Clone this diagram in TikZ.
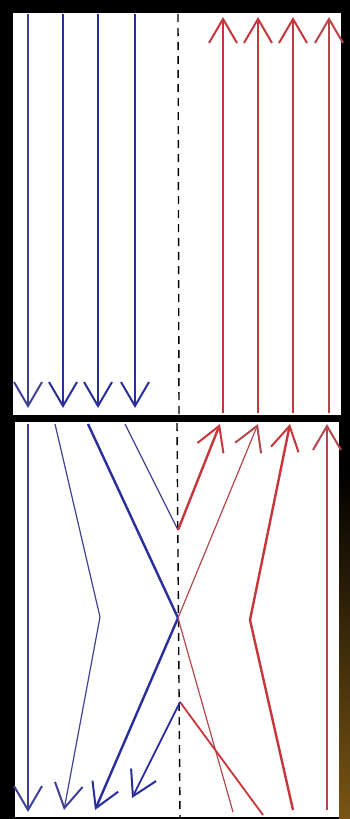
\documentclass[tikz,border=0pt]{standalone}
\usetikzlibrary{arrows.meta}
\definecolor{RayBlue}{HTML}{2A2E9C}
\definecolor{RayRed}{HTML}{C8363C}
\definecolor{Glow}{HTML}{7A5514}
\tikzset{>={Straight Barb[length=24pt,width=28pt,line width=2pt]},
 panel/.style={fill=white,draw=none},
 axis/.style={black,line width=1.4pt,dash pattern=on 8pt off 6pt},
 bthin/.style={RayBlue!75!gray,line width=1.2pt},
 bthick/.style={RayBlue,line width=2.4pt},
 rthin/.style={RayRed!75!gray,line width=1.2pt},
 rthick/.style={RayRed,line width=2.4pt}}
\begin{document}
\begin{tikzpicture}[x=1pt,y=-1pt]
\fill[black] (0,0) rectangle (350,819);
\shade[top color=black,bottom color=Glow] (339,470) rectangle (350,819);
\fill[panel] (13,13) rectangle (341,415);
\fill[panel] (15,422) rectangle (339,817);
% upper panel
\draw[axis] (178,14)--(179,414);
\foreach \x/\s in {28/bthin,63/bthick,98/bthick,135/bthick}
 \draw[\s,->] (\x,14)--(\x,408);
\foreach \x/\s in {223/rthick,258/rthick,293/rthick,329/rthin}
 \draw[\s,->] (\x,413)--(\x,17);
% lower panel
\coordinate (xo) at (178,618);
\coordinate (v0) at (178,530);
\coordinate (v1) at (180,702);
\coordinate (k0) at (100,617);
\coordinate (k1) at (250,620);
\draw[axis] (177,423)--(180,817);
\draw[bthin,->] (28,424)--(28,812);
\draw[bthin,->] (55,424)--(k0)--(64,810);
\draw[bthick] (88,424)--(xo);
\draw[bthick,->] (xo)--(95,810);
\draw[bthin] (125,424)--(v0);
\draw[rthick,->] (v0)--(220,424);
\draw[rthin] (233,812)--(xo);
\draw[rthin,->] (xo)--(258,424);
\draw[rthick,line width=1.8pt] (263,815)--(v1);
\draw[bthick,line width=1.8pt,->] (v1)--(132,798);
\draw[rthick,->] (293,810)--(k1)--(290,424);
\draw[rthin,->] (327,810)--(327,424);
\end{tikzpicture}
\end{document}
